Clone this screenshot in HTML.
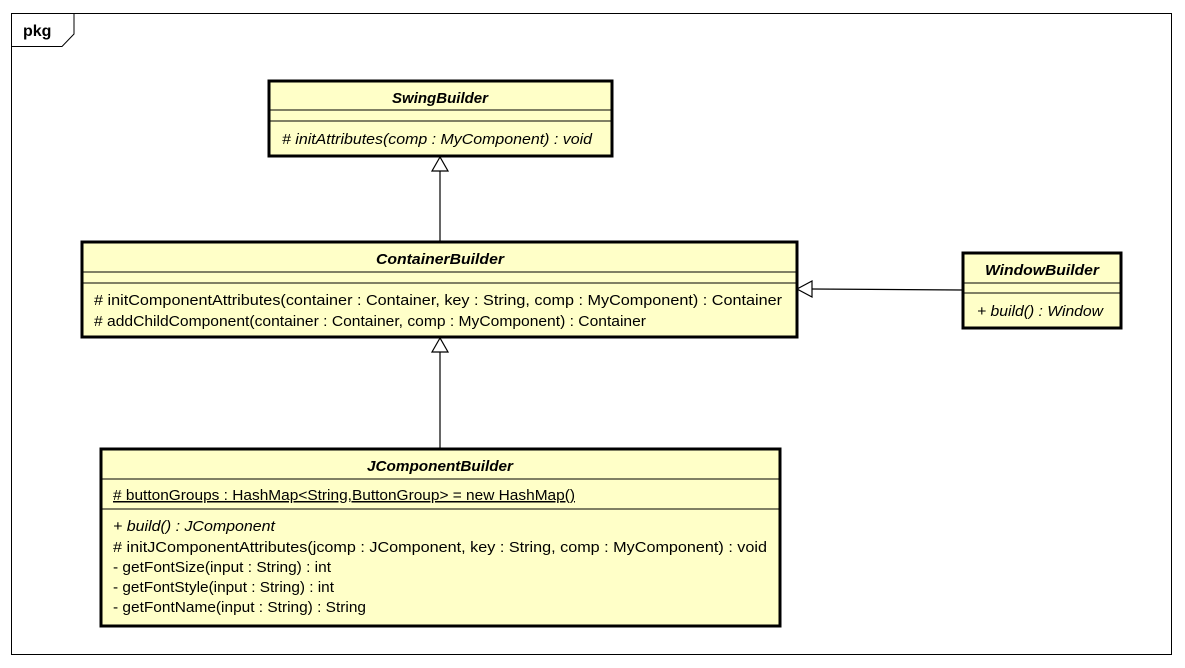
<!DOCTYPE html>
<html><head><meta charset="utf-8"><style>body{margin:0;background:#fff}svg{display:block}text{font-family:"Liberation Sans",Arial,sans-serif;font-size:15px;fill:#000}.t{font-weight:bold;font-style:italic}.i{font-style:italic}</style></head><body>
<svg width="1185" height="668" xmlns="http://www.w3.org/2000/svg">
<rect x="11.5" y="13.5" width="1160" height="641" fill="#fff" stroke="#000" stroke-width="1"/>
<path d="M11.5 46.5 H62 L74 34 V13.5" fill="none" stroke="#000"/>
<text x="23" y="36" style="font-weight:bold;font-size:16px">pkg</text>

<g stroke="#000" fill="none" stroke-width="1.2">
<line x1="440" y1="241" x2="440" y2="171"/>
<polygon points="440,157 432,171 448,171" fill="#fff"/>
<line x1="440" y1="448" x2="440" y2="352"/>
<polygon points="440,338 432,352 448,352" fill="#fff"/>
<line x1="962" y1="290" x2="812" y2="289"/>
<polygon points="797,289 812,281 812,297" fill="#fff"/>
</g>

<g stroke="#000">
<rect x="269" y="81" width="343" height="75" fill="#ffffc8" stroke-width="3"/>
<line x1="269" y1="110" x2="612" y2="110" stroke-width="1"/>
<line x1="269" y1="121" x2="612" y2="121" stroke-width="1"/>
<rect x="82" y="242" width="715" height="95" fill="#ffffc8" stroke-width="3"/>
<line x1="82" y1="272" x2="797" y2="272" stroke-width="1"/>
<line x1="82" y1="283" x2="797" y2="283" stroke-width="1"/>
<rect x="963" y="253" width="158" height="75" fill="#ffffc8" stroke-width="3"/>
<line x1="963" y1="283" x2="1121" y2="283" stroke-width="1"/>
<line x1="963" y1="293" x2="1121" y2="293" stroke-width="1"/>
<rect x="101" y="449" width="679" height="177" fill="#ffffc8" stroke-width="3"/>
<line x1="101" y1="479" x2="780" y2="479" stroke-width="1"/>
<line x1="101" y1="509" x2="780" y2="509" stroke-width="1"/>
</g>

<text x="440" y="103" text-anchor="middle" class="t" textLength="96" lengthAdjust="spacingAndGlyphs">SwingBuilder</text>
<text x="282" y="144" class="i" textLength="310" lengthAdjust="spacingAndGlyphs">#  initAttributes(comp : MyComponent) : void</text>

<text x="440" y="264" text-anchor="middle" class="t" textLength="128" lengthAdjust="spacingAndGlyphs">ContainerBuilder</text>
<text x="94" y="305" textLength="688" lengthAdjust="spacingAndGlyphs"># initComponentAttributes(container : Container, key : String, comp : MyComponent) : Container</text>
<text x="94" y="326" textLength="552" lengthAdjust="spacingAndGlyphs"># addChildComponent(container : Container, comp : MyComponent) : Container</text>

<text x="1042" y="275" text-anchor="middle" class="t" textLength="114" lengthAdjust="spacingAndGlyphs">WindowBuilder</text>
<text x="977" y="316" class="i" textLength="126" lengthAdjust="spacingAndGlyphs">+ build() : Window</text>

<text x="440" y="471" text-anchor="middle" class="t" textLength="146" lengthAdjust="spacingAndGlyphs">JComponentBuilder</text>
<text x="113" y="500" textLength="462" lengthAdjust="spacingAndGlyphs" text-decoration="underline"># buttonGroups : HashMap&lt;String,ButtonGroup&gt; = new HashMap()</text>
<text x="113" y="531" class="i" textLength="162" lengthAdjust="spacingAndGlyphs">+ build() : JComponent</text>
<text x="113" y="552" textLength="654" lengthAdjust="spacingAndGlyphs"># initJComponentAttributes(jcomp : JComponent, key : String, comp : MyComponent) : void</text>
<text x="113" y="572" textLength="218" lengthAdjust="spacingAndGlyphs">- getFontSize(input : String) : int</text>
<text x="113" y="592" textLength="221" lengthAdjust="spacingAndGlyphs">- getFontStyle(input : String) : int</text>
<text x="113" y="612" textLength="253" lengthAdjust="spacingAndGlyphs">- getFontName(input : String) : String</text>
</svg>
</body></html>
